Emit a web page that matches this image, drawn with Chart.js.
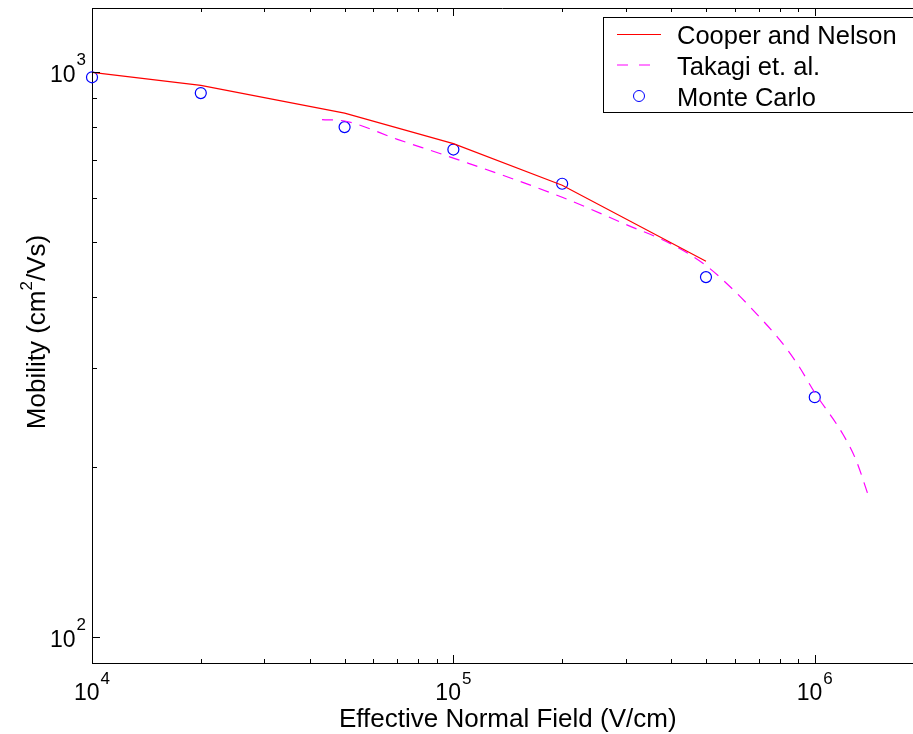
<!DOCTYPE html>
<html>
<head>
<meta charset="utf-8">
<title>Mobility vs Effective Normal Field</title>
<script src="https://cdn.jsdelivr.net/npm/chart.js@4/dist/chart.umd.min.js"></script>
<style>
  html, body { margin: 0; padding: 0; background: #fff; overflow: hidden; }
</style>
</head>
<body>
<canvas id="mobilityChart" width="913" height="734"></canvas>
<script>
// Cooper and Nelson (solid red)
const cooperField = [1e4, 2e4, 5e4, 1e5, 2e5, 5e5];
const cooperMobility = [1000, 948, 847, 748, 631, 463];

// Takagi et. al. (dashed magenta)
const takagiField = [4.33e4, 5e4, 7e4, 1e5, 2e5, 3e5, 4e5, 5e5, 6e5, 7e5, 8e5, 9e5, 1e6, 1.2e6, 1.3e6, 1.42e6];
const takagiMobility = [825, 820, 761, 705, 601, 538, 497, 455, 410, 370, 336, 303, 271, 228, 206, 175];

// Monte Carlo (blue circles)
const monteField = [1e4, 2e4, 5e4, 1e5, 2e5, 5e5, 1e6];
const monteMobility = [980, 919, 800, 730, 635, 434, 266];

// axis ranges and decade labels
const xRange = [1e4, 1.87e6];
const yRange = [90, 1300];
const xDecades = [4, 5, 6];
const yDecades = [2, 3];

const FONT = '"Liberation Sans", Arial, Helvetica, sans-serif';

function toPoints(xs, ys) {
    return xs.map(function (x, i) { return { x: x, y: ys[i] }; });
}

// "10" with a raised exponent
function drawPower(ctx, exp, x, baseline, align, bigSize, smallSize, lift) {
    ctx.font = bigSize + 'px ' + FONT;
    const wBase = ctx.measureText('10').width;
    ctx.font = smallSize + 'px ' + FONT;
    const wExp = ctx.measureText(String(exp)).width;
    const total = wBase + 1 + wExp;
    let left = x;
    if (align === 'center') left = x - total / 2;
    if (align === 'right') left = x - total;
    ctx.textAlign = 'left';
    ctx.textBaseline = 'alphabetic';
    ctx.font = bigSize + 'px ' + FONT;
    ctx.fillText('10', left, baseline);
    ctx.font = smallSize + 'px ' + FONT;
    ctx.fillText(String(exp), left + wBase + 1, baseline - lift);
}

const axesDecor = {
    id: 'axesDecor',
    afterDraw(chart) {
        const ctx = chart.ctx;
        const area = chart.chartArea;
        const xs = chart.scales.x;
        const ys = chart.scales.y;
        ctx.save();
        ctx.strokeStyle = '#000';
        ctx.fillStyle = '#000';
        ctx.lineWidth = 1;

        // top edge of the box
        ctx.beginPath();
        ctx.moveTo(area.left, area.top + 0.5);
        ctx.lineTo(area.right, area.top + 0.5);
        ctx.stroke();

        // x ticks, bottom and top, pointing inward
        ctx.beginPath();
        for (let d = 4; d <= 6; d++) {
            for (let k = 1; k <= 9; k++) {
                const v = k * Math.pow(10, d);
                if (v < xRange[0] || v >= xRange[1]) continue;
                const px = Math.round(xs.getPixelForValue(v)) + 0.5;
                const len = k === 1 ? 8 : 4;
                ctx.moveTo(px, area.bottom);
                ctx.lineTo(px, area.bottom - len);
                ctx.moveTo(px, area.top);
                ctx.lineTo(px, area.top + len);
            }
        }
        // y ticks on the left
        for (let d = 1; d <= 3; d++) {
            for (let k = 1; k <= 9; k++) {
                const v = k * Math.pow(10, d);
                if (v <= yRange[0] || v > yRange[1]) continue;
                const py = Math.round(ys.getPixelForValue(v)) + 0.5;
                const len = k === 1 ? 8 : 5;
                ctx.moveTo(area.left, py);
                ctx.lineTo(area.left + len, py);
            }
        }
        ctx.stroke();

        // decade labels
        xDecades.forEach(function (d) {
            const px = xs.getPixelForValue(Math.pow(10, d));
            drawPower(ctx, d, px, 700, 'center', 23, 17, 16);
        });
        yDecades.forEach(function (d) {
            const py = ys.getPixelForValue(Math.pow(10, d));
            drawPower(ctx, d, area.left - 6, py + 10, 'right', 23, 17, 17);
        });

        // axis titles
        ctx.textAlign = 'center';
        ctx.textBaseline = 'alphabetic';
        ctx.font = '26px ' + FONT;
        const xMid = (area.left + xs.getPixelForValue(2e6)) / 2;
        ctx.fillText('Effective Normal Field (V/cm)', xMid, 727);

        ctx.save();
        ctx.translate(45, 332);
        ctx.rotate(-Math.PI / 2);
        ctx.font = '26px ' + FONT;
        const p1 = 'Mobility (cm', p2 = '2', p3 = '/Vs)';
        const w1 = ctx.measureText(p1).width;
        const w3 = ctx.measureText(p3).width;
        ctx.font = '17px ' + FONT;
        const w2 = ctx.measureText(p2).width;
        let tx = -(w1 + w2 + w3) / 2;
        ctx.textAlign = 'left';
        ctx.font = '26px ' + FONT;
        ctx.fillText(p1, tx, 0);
        tx += w1;
        ctx.font = '17px ' + FONT;
        ctx.fillText(p2, tx, -13);
        tx += w2;
        ctx.font = '26px ' + FONT;
        ctx.fillText(p3, tx, 0);
        ctx.restore();

        // legend box (runs past the right edge)
        const lx = 603, ly = 17, lw = 320, lh = 95;
        ctx.fillStyle = '#fff';
        ctx.fillRect(lx, ly, lw, lh);
        ctx.strokeStyle = '#000';
        ctx.strokeRect(lx + 0.5, ly + 0.5, lw, lh);
        const rows = [34.5, 65, 96];
        ctx.lineWidth = 1;
        ctx.strokeStyle = '#ff0000';
        ctx.beginPath();
        ctx.moveTo(617, rows[0]);
        ctx.lineTo(661, rows[0]);
        ctx.stroke();
        ctx.strokeStyle = '#ff00ff';
        ctx.setLineDash([11, 11]);
        ctx.beginPath();
        ctx.moveTo(617, rows[1]);
        ctx.lineTo(661, rows[1]);
        ctx.stroke();
        ctx.setLineDash([]);
        ctx.strokeStyle = '#0000ff';
        ctx.beginPath();
        ctx.arc(639, rows[2], 5.5, 0, Math.PI * 2);
        ctx.stroke();
        ctx.fillStyle = '#000';
        ctx.font = '25.5px ' + FONT;
        ctx.textAlign = 'left';
        ctx.fillText('Cooper and Nelson', 677, rows[0] + 9.5);
        ctx.fillText('Takagi et. al.', 677, rows[1] + 9.5);
        ctx.fillText('Monte Carlo', 677, rows[2] + 9.5);

        ctx.restore();
    }
};

const canvas = document.getElementById('mobilityChart');
const mobilityChart = new Chart(canvas.getContext('2d'), {
    type: 'scatter',
    data: {
        datasets: [{
            label: 'Cooper and Nelson',
            data: toPoints(cooperField, cooperMobility),
            showLine: true,
            borderColor: '#ff0000',
            borderWidth: 1.2,
            pointRadius: 0
        }, {
            label: 'Takagi et. al.',
            data: toPoints(takagiField, takagiMobility),
            showLine: true,
            borderColor: '#ff00ff',
            borderWidth: 1.2,
            borderDash: [11, 8],
            cubicInterpolationMode: 'monotone',
            pointRadius: 0
        }, {
            label: 'Monte Carlo',
            data: toPoints(monteField, monteMobility),
            showLine: false,
            borderColor: '#0000ff',
            backgroundColor: 'rgba(0,0,0,0)',
            borderWidth: 1.2,
            pointRadius: 5.5,
            pointStyle: 'circle',
            clip: false
        }]
    },
    options: {
        responsive: false,
        animation: false,
        events: [],
        layout: { autoPadding: false, padding: { left: 92, top: 8, right: 0, bottom: 71 } },
        plugins: {
            legend: { display: false },
            tooltip: { enabled: false }
        },
        scales: {
            x: {
                type: 'logarithmic',
                min: xRange[0],
                max: xRange[1],
                ticks: { display: false },
                grid: { display: false, drawTicks: false },
                border: { display: true, color: '#000', width: 1 }
            },
            y: {
                type: 'logarithmic',
                min: yRange[0],
                max: yRange[1],
                ticks: { display: false },
                grid: { display: false, drawTicks: false },
                border: { display: true, color: '#000', width: 1 }
            }
        }
    },
    plugins: [axesDecor]
});
</script>
</body>
</html>
